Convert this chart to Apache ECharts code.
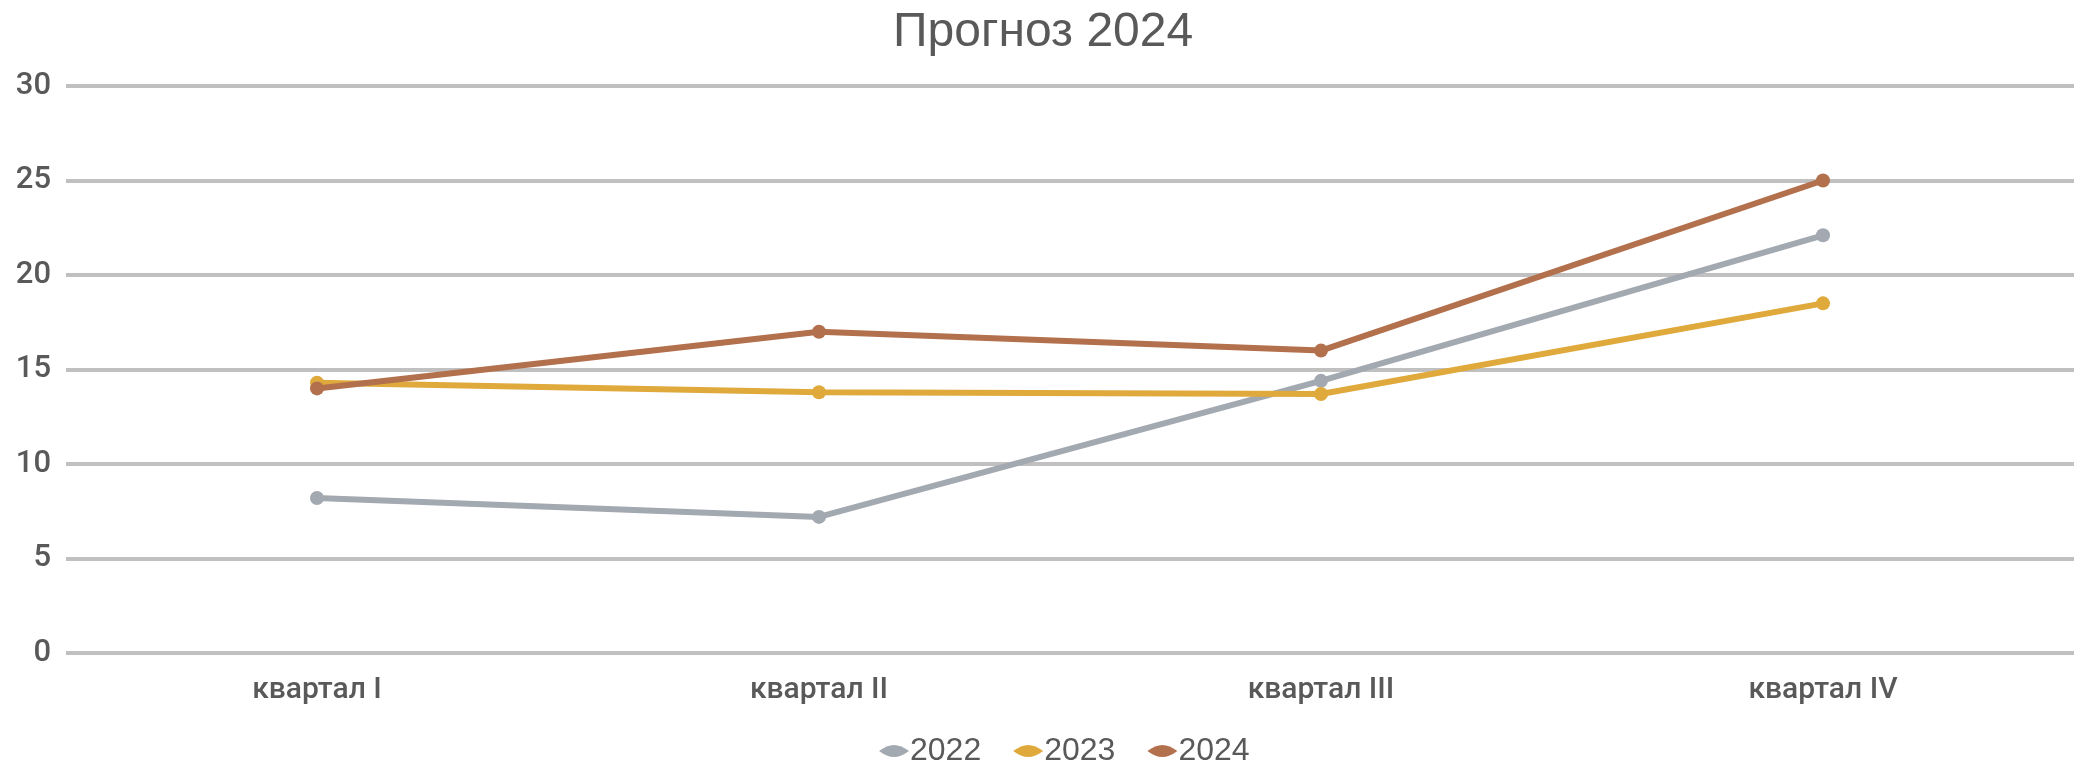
<!DOCTYPE html>
<html>
<head>
<meta charset="utf-8">
<script src="https://cdn.jsdelivr.net/npm/echarts@6/dist/echarts.min.js"></script>
<style>
  html, body { margin: 0; padding: 0; background: #fff; }
  #chart { width: 2074px; height: 767px; }
</style>
</head>
<body>
<div id="chart"></div>
<script>
const quarters = ['квартал I', 'квартал II', 'квартал III', 'квартал IV'];
const years = ['2022', '2023', '2024'];
const values2022 = [8.2, 7.2, 14.4, 22.1];
const values2023 = [14.3, 13.8, 13.7, 18.5];
const values2024 = [14, 17, 16, 25];
const colors = ['#a3a9b0', '#dfa93c', '#b3704d'];

const chart = echarts.init(document.getElementById('chart'));

const seriesValues = [values2022, values2023, values2024];
// lens-shaped legend mark, like a short line with a dot
const legendIcon = 'path://M0,6 Q8,0 15,0 Q22,0 30,6 Q22,12 15,12 Q8,12 0,6 Z';

chart.setOption({
  animation: false,
  color: colors,
  textStyle: { fontFamily: 'Roboto', color: '#595959' },
  title: {
    text: 'Прогноз 2024',
    left: 888,
    top: 4,
    textStyle: { fontFamily: 'Liberation Sans', fontSize: 48, fontWeight: 'normal', color: '#595959' }
  },
  legend: {
    top: 730,
    left: 874,
    icon: legendIcon,
    itemWidth: 30,
    itemHeight: 16,
    itemGap: 32,
    textStyle: { fontFamily: 'Liberation Sans', fontSize: 32, color: '#595959', padding: [0, 0, 0, -4] },
    data: years
  },
  grid: { left: 66, right: 0, top: 86, bottom: 114, containLabel: false },
  xAxis: {
    type: 'category',
    data: quarters,
    boundaryGap: true,
    axisLine: { show: false },
    axisTick: { show: false },
    axisLabel: { fontSize: 30, fontWeight: 500, color: '#595959', margin: 22 }
  },
  yAxis: {
    type: 'value',
    min: 0,
    max: 30,
    interval: 5,
    axisLine: { show: false },
    axisTick: { show: false },
    axisLabel: { fontSize: 31, fontWeight: 500, color: '#595959', margin: 15 },
    splitLine: { lineStyle: { color: '#c0c0c0', width: 4 } }
  },
  series: years.map((name, i) => ({
    name: name,
    type: 'line',
    data: seriesValues[i],
    symbol: 'circle',
    symbolSize: 14,
    lineStyle: { width: 6 },
    itemStyle: { color: colors[i] }
  }))
});
</script>
</body>
</html>
